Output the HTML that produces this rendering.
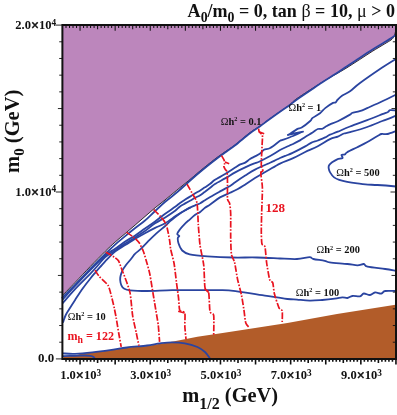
<!DOCTYPE html>
<html><head><meta charset="utf-8"><title>plot</title>
<style>html,body{margin:0;padding:0;background:#fff;}svg{display:block;will-change:transform;}</style>
</head><body>
<svg width="397" height="415" viewBox="0 0 397 415">
<rect width="397" height="415" fill="#fff"/>
<path d="M62.4,25.1 L397.0,25.1 L397.0,29.0 L396.5,29.0 L395.5,31.5 L394.2,36.4 L391.0,40.0 L384.8,43.8 L372.2,51.4 L359.6,59.6 L347.0,67.7 L334.5,75.0 L322.0,82.3 L297.0,98.5 L290.1,104.5 L280.0,111.6 L268.1,120.0 L260.1,126.0 L250.0,132.6 L235.2,144.8 L225.1,151.8 L215.0,159.0 L200.0,171.0 L188.2,181.0 L176.7,190.3 L165.0,200.0 L155.1,207.8 L145.0,216.5 L135.2,225.0 L125.2,233.6 L115.1,242.1 L105.3,251.3 L90.2,266.6 L75.1,282.5 L62.5,295.5 L62.4,295.5 Z" fill="#bc86bc"/>
<path d="M62.5,295.5 C64.6,293.3 70.5,287.3 75.1,282.5 C79.7,277.7 85.2,271.8 90.2,266.6 C95.2,261.4 101.2,255.4 105.3,251.3 C109.4,247.2 111.8,245.1 115.1,242.1 C118.4,239.1 121.9,236.4 125.2,233.6 C128.6,230.8 131.9,227.8 135.2,225.0 C138.5,222.2 141.7,219.4 145.0,216.5 C148.3,213.6 151.8,210.6 155.1,207.8 C158.4,205.1 161.4,202.9 165.0,200.0 C168.6,197.1 172.8,193.5 176.7,190.3 C180.6,187.1 184.3,184.2 188.2,181.0 C192.1,177.8 195.5,174.7 200.0,171.0 C204.5,167.3 210.8,162.2 215.0,159.0 C219.2,155.8 221.7,154.2 225.1,151.8 C228.5,149.4 231.0,148.0 235.2,144.8 C239.3,141.6 245.8,135.7 250.0,132.6 C254.2,129.5 257.1,128.1 260.1,126.0 C263.1,123.9 264.8,122.4 268.1,120.0 C271.4,117.6 276.3,114.2 280.0,111.6 C283.7,109.0 287.3,106.7 290.1,104.5 C292.9,102.3 291.7,102.2 297.0,98.5 C302.3,94.8 315.8,86.2 322.0,82.3 C328.2,78.4 330.3,77.4 334.5,75.0 C338.7,72.6 342.8,70.3 347.0,67.7 C351.2,65.1 355.4,62.3 359.6,59.6 C363.8,56.9 368.0,54.0 372.2,51.4 C376.4,48.8 381.7,45.7 384.8,43.8 C387.9,41.9 389.4,41.2 391.0,40.0 C392.6,38.8 393.4,37.8 394.2,36.4 C394.9,35.0 395.1,32.7 395.5,31.5 C395.9,30.3 396.3,29.4 396.5,29.0" fill="none" stroke="#1a1a1a" stroke-width="0.9"/>
<path d="M63.4,356.4 L72.0,356.0 L76.0,355.2 L80.0,353.9 L92.3,352.6 L110.0,350.3 L127.0,347.6 L147.0,346.0 L172.0,341.8 L197.4,336.8 L222.6,333.0 L247.0,329.2 L287.4,323.0 L337.0,314.0 L397.0,304.5 L397.0,358.9 L63.4,358.9 Z" fill="#b25c29"/>
<path d="M62.3,297.6 C64.4,295.5 70.3,289.6 75.0,284.8 C79.7,280.0 85.2,274.1 90.2,268.9 C95.2,263.7 101.2,257.9 105.3,253.8 C109.4,249.8 111.8,247.6 115.1,244.6 C118.4,241.6 121.9,238.9 125.2,236.1 C128.6,233.3 131.9,230.6 135.2,228.0 C138.5,225.4 141.7,223.3 145.0,220.5 C148.3,217.7 151.7,214.1 155.1,211.0 C158.5,207.9 161.4,205.0 165.2,201.8 C168.9,198.6 173.8,195.1 177.6,191.8 C181.4,188.6 184.5,185.6 188.2,182.3 C191.9,179.0 195.5,175.7 200.0,172.0 C204.5,168.3 210.8,163.2 215.0,160.0 C219.2,156.8 221.7,154.9 225.1,152.5 C228.5,150.1 231.0,148.5 235.2,145.3 C239.3,142.1 245.8,136.4 250.0,133.2 C254.2,130.0 257.1,128.4 260.1,126.3 C263.1,124.2 264.8,122.7 268.1,120.3 C271.4,117.9 276.3,114.4 280.0,111.8 C283.7,109.2 287.3,106.8 290.1,104.8 C292.9,102.8 291.7,103.2 297.0,99.5 C302.3,95.8 315.8,86.8 322.0,82.6 C328.2,78.4 330.3,77.3 334.5,74.6 C338.7,71.9 342.8,69.0 347.0,66.2 C351.2,63.4 355.4,60.6 359.6,57.9 C363.8,55.1 368.0,52.3 372.2,49.7 C376.4,47.1 381.7,44.0 384.8,42.1 C387.9,40.2 389.2,39.5 391.0,38.3 C392.8,37.1 394.8,35.6 395.5,35.1" fill="none" stroke="#2a44a0" stroke-width="1.8" stroke-linejoin="round" stroke-linecap="round"/>
<path d="M395.7,59.0 C393.1,60.7 385.9,65.0 380.0,69.0 C374.1,73.0 365.0,79.3 360.0,83.0 C355.0,86.7 353.0,89.2 350.0,91.3 C347.0,93.4 344.0,94.3 342.0,95.7 C340.0,97.1 338.9,98.4 337.8,99.5 C336.7,100.6 336.3,101.9 335.5,102.5 C334.7,103.1 334.7,102.0 333.0,102.9 C331.3,103.8 327.4,106.4 325.2,108.1 C323.0,109.8 322.1,111.6 320.0,113.2 C317.9,114.8 314.2,116.6 312.6,117.9 C311.0,119.2 312.0,119.4 310.2,121.0 C308.4,122.6 303.9,126.2 301.7,127.5 C299.5,128.8 299.2,127.9 297.1,129.1 C295.0,130.3 290.4,133.6 289.1,134.5 C287.8,135.4 287.0,134.9 289.1,134.5 C291.2,134.1 299.6,132.4 301.7,132.0 C303.8,131.6 303.1,131.3 301.7,132.0 C300.3,132.7 296.4,134.7 293.1,136.0 C289.8,137.3 284.2,139.3 282.0,140.1 C279.8,140.9 282.0,139.5 280.0,140.8 C278.0,142.1 272.9,146.5 270.2,148.0 C267.5,149.5 265.7,148.9 264.0,149.8 C262.3,150.7 261.6,152.4 260.1,153.5 C258.6,154.6 256.7,155.5 255.0,156.4 C253.3,157.3 251.6,158.1 250.0,159.1 C248.4,160.1 246.8,161.7 245.2,162.6 C243.6,163.5 241.9,163.6 240.2,164.4 C238.5,165.2 237.7,165.9 235.2,167.5 C232.7,169.1 228.5,171.9 225.1,174.0 C221.7,176.1 217.5,178.2 215.0,179.8 C212.5,181.4 211.9,182.6 210.2,183.8 C208.5,185.1 206.7,186.2 205.0,187.3 C203.3,188.4 201.8,189.5 200.2,190.5 C198.6,191.5 196.9,192.3 195.2,193.3 C193.5,194.3 191.7,195.6 190.0,196.6 C188.3,197.6 186.9,198.5 185.2,199.6 C183.5,200.7 181.7,201.8 180.0,203.0 C178.3,204.2 177.7,205.0 175.2,206.8 C172.7,208.6 168.5,211.3 165.2,213.7 C161.8,216.1 158.5,218.9 155.1,221.4 C151.7,223.9 148.3,226.2 145.0,228.5 C141.7,230.8 138.5,233.2 135.2,235.4 C131.9,237.6 128.6,239.3 125.2,241.5 C121.9,243.7 118.5,246.5 115.1,248.8 C111.7,251.1 109.2,251.9 105.0,255.5 C100.8,259.1 95.2,265.1 90.2,270.2 C85.2,275.3 79.6,281.2 75.1,286.0 C70.6,290.8 65.0,296.9 63.0,299.1" fill="none" stroke="#2a44a0" stroke-width="1.8" stroke-linejoin="round" stroke-linecap="round"/>
<path d="M396.2,94.5 C393.9,95.6 387.1,99.0 382.3,101.3 C377.5,103.6 371.0,106.4 367.2,108.1 C363.4,109.8 362.2,110.4 359.7,111.2 C357.2,112.0 353.6,112.4 352.0,113.0 C350.4,113.6 352.4,113.2 350.0,114.6 C347.6,116.0 341.1,119.6 337.8,121.2 C334.5,122.8 332.1,123.5 330.0,124.4 C327.9,125.4 326.6,126.2 325.3,126.9 C324.0,127.7 323.2,128.6 322.0,128.9 C320.8,129.2 319.4,128.4 317.8,129.0 C316.2,129.6 314.7,131.2 312.6,132.5 C310.5,133.8 307.3,135.6 305.2,136.9 C303.1,138.2 302.1,139.2 300.0,140.4 C297.9,141.6 294.3,143.4 292.6,144.2 C290.9,145.0 292.1,144.2 290.0,145.2 C287.9,146.2 283.3,148.2 280.0,150.0 C276.7,151.8 273.7,154.1 270.2,156.0 C266.7,157.9 261.6,160.5 259.1,161.7 C256.6,162.9 257.3,162.2 255.0,163.2 C252.7,164.1 248.5,165.9 245.2,167.4 C241.9,168.9 238.5,170.6 235.2,172.4 C231.8,174.2 228.5,176.5 225.1,178.4 C221.7,180.3 217.5,182.4 215.0,184.0 C212.5,185.6 211.9,186.4 210.2,187.7 C208.5,189.0 206.7,190.4 205.0,191.7 C203.3,192.9 201.8,194.2 200.2,195.2 C198.6,196.2 196.9,196.8 195.2,197.7 C193.5,198.6 191.7,199.8 190.0,200.7 C188.3,201.6 186.9,202.4 185.2,203.4 C183.5,204.4 181.7,205.2 180.0,206.4 C178.3,207.6 177.7,208.9 175.2,210.7 C172.7,212.5 168.5,215.3 165.2,217.4 C161.8,219.5 158.5,221.0 155.1,223.3 C151.7,225.6 148.3,228.7 145.0,231.0 C141.7,233.3 138.5,235.3 135.2,237.4 C131.9,239.5 128.6,241.4 125.2,243.6 C121.9,245.8 118.5,248.2 115.1,250.5 C111.7,252.8 107.9,254.8 105.0,257.3 C102.1,259.8 100.3,262.7 97.8,265.5 C95.3,268.3 94.0,270.0 90.2,273.9 C86.4,277.8 79.6,284.3 75.1,289.1 C70.6,293.9 65.0,300.5 63.0,302.8" fill="none" stroke="#2a44a0" stroke-width="1.8" stroke-linejoin="round" stroke-linecap="round"/>
<path d="M396.2,110.4 C395.2,110.4 391.4,109.9 390.0,110.2 C388.6,110.5 389.3,111.3 388.0,112.0 C386.7,112.7 385.8,112.8 382.3,114.2 C378.8,115.6 372.6,118.2 367.2,120.2 C361.8,122.2 354.9,124.6 350.0,126.5 C345.1,128.4 341.1,130.3 337.8,131.7 C334.5,133.1 332.1,133.8 330.0,134.7 C327.9,135.6 327.2,136.4 325.2,137.4 C323.2,138.4 320.1,139.6 317.8,140.5 C315.5,141.4 313.6,141.6 311.5,142.6 C309.4,143.6 308.3,144.7 305.2,146.4 C302.1,148.1 295.8,151.4 292.6,152.9 C289.5,154.4 288.4,154.7 286.3,155.5 C284.2,156.3 282.0,157.1 280.0,158.0 C278.0,158.9 276.3,159.9 274.2,160.9 C272.1,161.9 270.6,162.5 267.4,163.9 C264.2,165.3 258.7,167.7 255.0,169.6 C251.3,171.5 248.5,173.5 245.2,175.6 C241.9,177.7 237.7,180.5 235.2,182.2 C232.7,183.9 232.6,184.4 230.1,185.9 C227.6,187.4 223.3,189.5 220.0,191.4 C216.7,193.3 212.7,195.6 210.2,197.1 C207.7,198.6 206.7,199.2 205.0,200.2 C203.3,201.2 201.8,202.3 200.2,203.2 C198.6,204.0 196.9,204.6 195.2,205.3 C193.5,206.0 191.7,206.8 190.0,207.6 C188.3,208.4 186.9,209.3 185.2,210.3 C183.5,211.3 181.7,212.4 180.0,213.5 C178.3,214.6 176.8,215.7 175.2,217.0 C173.6,218.3 171.9,219.7 170.2,221.2 C168.5,222.7 167.7,223.8 165.2,226.0 C162.7,228.2 158.0,231.9 155.1,234.6 C152.2,237.2 150.1,239.4 147.6,241.9 C145.1,244.4 142.4,247.4 140.3,249.4 C138.2,251.4 136.7,252.1 135.2,253.7 C133.7,255.2 132.7,256.8 131.2,258.7 C129.7,260.6 127.7,262.9 126.2,264.8 C124.8,266.7 123.4,268.5 122.5,270.3 C121.6,272.1 121.0,274.1 120.6,275.7 C120.2,277.3 120.1,278.6 120.2,280.2 C120.3,281.8 120.8,283.9 121.4,285.3 C122.0,286.7 122.6,287.7 124.0,288.5 C125.4,289.3 126.2,289.9 130.0,290.3 C133.8,290.7 140.0,291.0 147.0,291.0 C154.0,291.0 163.8,290.3 172.2,290.2 C180.6,290.1 189.0,290.2 197.4,290.2 C205.8,290.2 216.0,290.0 222.6,290.2 C229.2,290.4 230.4,290.6 237.0,291.4 C243.6,292.2 253.8,293.9 262.2,295.2 C270.6,296.5 281.6,298.3 287.4,299.0 C293.2,299.7 293.3,299.3 297.0,299.6 C300.7,299.9 305.4,300.5 309.6,300.6 C313.8,300.7 318.0,300.3 322.2,300.0 C326.4,299.7 331.4,299.1 334.8,298.6 C338.2,298.2 340.2,297.4 342.3,297.3 C344.4,297.2 345.7,298.2 347.4,298.0 C349.1,297.8 350.3,296.3 352.4,296.0 C354.5,295.7 358.1,296.7 360.0,296.3 C361.9,295.9 362.1,293.7 363.8,293.5 C365.5,293.3 368.1,295.2 370.0,295.0 C371.9,294.8 373.1,292.8 375.0,292.5 C376.9,292.2 379.7,293.8 381.4,293.5 C383.1,293.2 382.8,291.4 385.2,291.0 C387.6,290.6 393.9,291.0 395.7,291.0" fill="none" stroke="#2a44a0" stroke-width="1.8" stroke-linejoin="round" stroke-linecap="round"/>
<path d="M396.2,115.7 C393.9,116.6 387.1,119.1 382.3,121.0 C377.5,122.9 372.6,125.1 367.2,127.0 C361.8,128.9 353.9,131.1 350.0,132.2 C346.1,133.3 346.0,132.8 344.0,133.5 C342.0,134.2 340.1,135.7 337.8,136.6 C335.5,137.5 333.3,137.5 330.0,139.1 C326.7,140.7 321.9,144.0 317.8,146.2 C313.7,148.3 309.4,150.0 305.2,152.0 C301.0,154.0 296.8,156.5 292.6,158.4 C288.4,160.3 284.2,161.5 280.0,163.6 C275.8,165.7 271.6,168.4 267.4,170.8 C263.2,173.2 259.0,175.5 255.0,178.0 C251.0,180.5 246.1,183.9 243.2,185.8 C240.3,187.7 239.6,188.1 237.4,189.3 C235.2,190.5 232.9,191.5 230.0,192.8 C227.1,194.2 223.3,195.5 220.0,197.4 C216.7,199.3 212.7,202.8 210.2,204.5 C207.7,206.2 206.7,206.6 205.0,207.8 C203.3,209.1 201.8,210.8 200.2,212.0 C198.6,213.2 197.2,213.3 195.2,214.8 C193.2,216.3 189.8,219.5 188.2,220.8 C186.6,222.1 187.2,221.4 185.8,222.8 C184.4,224.2 181.4,227.4 180.0,229.3 C178.6,231.2 177.3,232.9 177.2,234.0 C177.1,235.1 179.2,235.3 179.3,236.0 C179.4,236.7 178.0,236.8 177.8,238.0 C177.7,239.2 177.7,240.9 178.4,243.0 C179.1,245.1 180.3,248.6 182.2,250.5 C184.1,252.4 185.5,253.3 189.7,254.3 C193.9,255.3 200.2,255.8 207.4,256.3 C214.6,256.8 224.3,257.3 232.6,257.5 C240.9,257.7 249.1,257.3 257.0,257.5 C264.9,257.7 273.3,258.2 280.0,258.5 C286.7,258.8 292.1,259.2 297.0,259.0 C301.9,258.8 306.9,257.2 309.6,257.2 C312.3,257.2 310.9,258.4 313.4,259.0 C315.9,259.6 322.0,260.2 324.7,260.8 C327.4,261.4 325.9,261.8 329.7,262.3 C333.5,262.8 342.8,263.5 347.4,264.0 C352.0,264.5 354.8,265.3 357.5,265.3 C360.2,265.3 362.1,263.8 363.8,264.0 C365.5,264.2 363.9,265.8 367.5,266.6 C371.1,267.4 380.5,268.3 385.2,269.0 C389.9,269.7 393.9,270.5 395.7,270.8" fill="none" stroke="#2a44a0" stroke-width="1.8" stroke-linejoin="round" stroke-linecap="round"/>
<path d="M63.2,322.0 C63.6,320.9 64.5,317.6 65.5,315.5 C66.5,313.4 67.4,312.1 69.0,309.5 C70.6,306.9 72.8,303.4 75.1,299.9 C77.4,296.4 80.2,292.0 82.7,288.5 C85.2,285.0 88.1,281.3 90.2,278.7 C92.3,276.1 93.5,274.7 95.1,272.8 C96.7,270.9 98.3,269.1 100.0,267.2 C101.7,265.3 103.5,263.1 105.2,261.3 C106.9,259.5 108.3,257.9 110.0,256.3 C111.7,254.7 112.6,253.5 115.1,251.6 C117.6,249.7 121.9,247.2 125.2,245.1 C128.6,243.0 131.9,240.8 135.2,238.8 C138.5,236.8 141.7,235.0 145.0,233.2 C148.3,231.4 151.7,229.6 155.1,227.9 C158.5,226.2 161.8,225.1 165.2,223.2 C168.5,221.3 172.7,218.0 175.2,216.3 C177.7,214.6 178.3,214.2 180.0,213.2 C181.7,212.2 183.5,211.1 185.2,210.2 C186.9,209.3 189.2,208.0 190.0,207.6" fill="none" stroke="#2a44a0" stroke-width="1.8" stroke-linejoin="round" stroke-linecap="round"/>
<path d="M396.0,131.0 C394.6,131.5 389.9,133.5 387.5,134.0 C385.1,134.5 383.2,133.7 381.5,134.0 C379.8,134.3 379.9,134.7 377.5,136.0 C375.1,137.3 370.8,140.1 367.4,142.0 C364.0,143.9 360.7,145.5 357.3,147.2 C353.9,148.9 349.3,151.0 347.2,152.2 C345.1,153.4 345.8,154.0 344.8,154.5 C343.9,155.0 341.9,154.4 341.5,155.0 C341.1,155.6 343.2,157.3 342.5,158.0 C341.8,158.7 338.9,158.6 337.2,159.3 C335.5,160.0 333.5,161.3 332.1,162.3 C330.8,163.3 329.7,164.3 329.1,165.3 C328.5,166.3 328.5,167.1 328.7,168.3 C328.9,169.5 329.2,170.9 330.1,172.4 C331.0,173.9 332.6,176.2 334.1,177.4 C335.6,178.6 337.0,179.1 339.2,179.8 C341.4,180.5 344.2,181.2 347.2,181.8 C350.2,182.4 354.3,183.0 357.3,183.4 C360.3,183.8 362.0,184.1 365.4,184.4 C368.8,184.7 372.4,184.7 377.5,185.0 C382.6,185.3 392.9,186.2 396.0,186.5" fill="none" stroke="#2a44a0" stroke-width="1.8" stroke-linejoin="round" stroke-linecap="round"/>
<path d="M63.2,353.4 C65.2,353.5 70.2,354.0 75.0,353.8 C79.8,353.6 86.5,353.0 92.3,352.4 C98.1,351.8 104.2,351.0 110.0,350.2 C115.8,349.4 120.8,348.3 127.0,347.5 C133.2,346.7 141.5,346.2 147.0,345.5 C152.5,344.8 155.8,343.8 160.0,343.3 C164.2,342.8 167.9,342.3 172.0,342.3 C176.1,342.3 180.6,342.5 184.8,343.3 C189.0,344.1 194.0,345.6 197.4,347.0 C200.8,348.4 202.9,350.1 205.0,352.0 C207.1,353.9 209.2,357.4 210.0,358.5" fill="none" stroke="#2a44a0" stroke-width="1.8" stroke-linejoin="round" stroke-linecap="round"/>
<path d="M63.2,356.2 C65.2,356.1 71.4,355.9 75.0,355.8 C78.6,355.7 82.4,355.5 85.0,355.5 C87.6,355.5 89.1,355.6 90.5,355.9 C91.9,356.1 92.8,356.5 93.5,357.0 C94.2,357.5 94.8,358.5 95.0,358.8" fill="none" stroke="#2a44a0" stroke-width="1.8" stroke-linejoin="round" stroke-linecap="round"/>
<path d="M95.0,270.3 C95.5,271.0 97.8,274.8 99.3,276.5 C100.8,278.2 106.6,283.0 108.0,285.3 C109.4,287.6 110.8,293.8 111.5,296.5 C112.2,299.2 113.8,305.7 114.3,308.2 C114.8,310.7 115.7,315.1 116.2,318.0 C116.7,320.9 118.1,329.6 118.7,333.0 C119.3,336.4 120.9,345.3 121.2,346.9" fill="none" stroke="#e9131f" stroke-width="1.7" stroke-dasharray="6.5 1.6 1.6 1.6"/>
<path d="M105.8,252.2 C106.3,252.5 109.0,254.0 110.0,254.6 C111.0,255.2 113.0,256.3 114.0,257.0 C115.0,257.7 117.6,259.3 118.5,260.8 C119.4,262.3 121.2,268.0 122.0,270.0 C122.8,272.0 124.1,275.0 125.0,277.6 C125.9,280.2 129.1,288.3 130.0,292.7 C130.9,297.1 131.9,310.7 132.6,315.4 C133.3,320.1 135.6,329.5 136.3,333.0 C137.0,336.5 138.6,344.1 138.9,345.6" fill="none" stroke="#e9131f" stroke-width="1.7" stroke-dasharray="6.5 1.6 1.6 1.6"/>
<path d="M126.5,232.4 C127.3,232.9 131.8,235.8 133.3,237.0 C134.8,238.2 137.8,240.9 139.0,242.6 C140.2,244.3 142.6,249.3 143.5,251.7 C144.4,254.1 146.1,260.3 146.9,263.0 C147.7,265.7 149.3,271.3 150.0,275.0 C150.7,278.7 152.6,290.9 153.3,295.0 C154.0,299.1 155.2,306.4 155.8,310.0 C156.4,313.6 157.9,321.8 158.3,325.5 C158.7,329.2 159.4,339.9 159.6,341.8" fill="none" stroke="#e9131f" stroke-width="1.7" stroke-dasharray="6.5 1.6 1.6 1.6"/>
<path d="M153.7,209.7 C154.5,210.5 159.0,214.8 160.5,216.5 C162.0,218.2 165.1,221.7 166.2,224.5 C167.3,227.3 169.1,237.5 169.6,240.4 C170.1,243.3 170.2,246.8 170.7,249.4 C171.2,252.0 173.3,259.2 174.0,263.0 C174.7,266.8 175.9,278.0 176.4,282.0 C176.9,286.0 178.1,294.4 178.5,297.7 C178.9,301.0 179.0,308.2 179.7,310.0 C180.4,311.8 184.2,311.2 184.8,313.0 C185.4,314.8 184.7,322.4 184.8,325.5 C184.9,328.6 185.9,337.7 186.0,339.3" fill="none" stroke="#e9131f" stroke-width="1.7" stroke-dasharray="6.5 1.6 1.6 1.6"/>
<path d="M187.0,184.2 C187.6,185.2 190.8,190.8 192.0,193.0 C193.2,195.2 196.3,199.3 197.0,203.0 C197.7,206.7 198.0,220.1 198.3,225.0 C198.7,229.9 199.4,240.3 200.0,245.0 C200.6,249.7 203.1,260.0 203.7,265.0 C204.3,270.0 204.4,284.5 205.0,287.7 C205.6,290.9 208.1,289.9 208.7,292.7 C209.3,295.5 209.4,309.0 210.0,311.6 C210.6,314.2 213.3,312.7 213.7,315.4 C214.1,318.1 213.7,332.7 213.7,335.0" fill="none" stroke="#e9131f" stroke-width="1.7" stroke-dasharray="6.5 1.6 1.6 1.6"/>
<path d="M221.5,155.6 C221.8,156.1 223.7,159.2 224.1,160.1 C224.5,161.0 224.6,162.8 224.6,163.5 C224.6,164.2 223.7,165.5 223.8,166.2 C223.9,166.9 224.7,168.5 225.1,169.2 C225.5,169.9 226.8,170.3 227.1,172.2 C227.4,174.1 227.5,182.4 227.5,185.5 C227.5,188.6 227.3,196.9 227.5,199.0 C227.7,201.1 229.2,201.6 229.6,203.3 C230.0,205.1 230.6,210.0 230.7,214.0 C230.8,218.0 230.6,233.3 230.7,238.0 C230.8,242.7 231.0,251.2 231.4,254.0 C231.8,256.8 234.0,260.4 234.5,262.0 C235.0,263.6 235.2,265.9 235.6,268.0 C236.0,270.1 237.0,276.8 237.7,280.0 C238.4,283.2 240.8,291.7 241.5,295.2 C242.2,298.7 243.5,307.1 244.0,310.3 C244.5,313.5 245.1,320.9 245.8,323.0 C246.5,325.1 249.2,327.4 249.6,328.0" fill="none" stroke="#e9131f" stroke-width="1.7" stroke-dasharray="6.5 1.6 1.6 1.6"/>
<path d="M258.6,128.6 C258.7,129.0 258.8,131.0 259.2,131.8 C259.6,132.6 262.1,133.9 262.4,135.5 C262.7,137.1 262.2,141.8 262.1,145.2 C262.0,148.6 261.2,162.0 261.3,165.0 C261.4,168.0 263.1,170.1 263.0,171.0 C262.9,171.9 260.9,171.0 260.8,173.0 C260.7,175.0 262.3,183.1 262.4,188.0 C262.5,192.9 261.7,210.0 261.6,215.0 C261.5,220.0 261.3,227.6 261.3,231.0 C261.3,234.4 261.5,241.9 261.9,243.8 C262.3,245.7 264.5,244.7 265.0,246.9 C265.5,249.1 266.1,258.7 266.6,262.5 C267.1,266.3 269.0,277.3 269.7,279.7 C270.4,282.1 272.3,281.2 272.8,282.8 C273.3,284.4 273.7,290.9 274.4,293.8 C275.1,296.7 278.1,305.8 279.0,307.8 C279.9,309.8 281.8,309.2 282.2,310.9 C282.6,312.6 282.2,320.7 282.2,322.0" fill="none" stroke="#e9131f" stroke-width="1.7" stroke-dasharray="6.5 1.6 1.6 1.6"/>
<path d="M259,131.7 L264.2,133.7 M225,162 L229.2,163.8 M260.3,172.6 L263.3,170.6 M178.2,311.3 L184.6,313 M204.6,288.6 L208.8,292.6" fill="none" stroke="#e9131f" stroke-width="1.6"/>
<g stroke="#111" fill="none">
<path d="M62.4,24.1 V359.9 M61.4,25.1 H397 M61.4,358.9 H397 M396.0,25.1 V358.9" stroke-width="2"/>
<path d="M66.01,25.1 v2.9 M69.52,25.1 v2.9 M73.03,25.1 v2.9 M76.54,25.1 v2.9 M80.05,25.1 v5.6 M83.56,25.1 v2.9 M87.07,25.1 v2.9 M90.58,25.1 v2.9 M94.09,25.1 v2.9 M97.60,25.1 v4.2 M101.11,25.1 v2.9 M104.62,25.1 v2.9 M108.13,25.1 v2.9 M111.64,25.1 v2.9 M115.15,25.1 v5.6 M118.66,25.1 v2.9 M122.17,25.1 v2.9 M125.68,25.1 v2.9 M129.19,25.1 v2.9 M132.70,25.1 v4.2 M136.21,25.1 v2.9 M139.72,25.1 v2.9 M143.23,25.1 v2.9 M146.74,25.1 v2.9 M150.25,25.1 v5.6 M153.76,25.1 v2.9 M157.27,25.1 v2.9 M160.78,25.1 v2.9 M164.29,25.1 v2.9 M167.80,25.1 v4.2 M171.31,25.1 v2.9 M174.82,25.1 v2.9 M178.33,25.1 v2.9 M181.84,25.1 v2.9 M185.35,25.1 v5.6 M188.86,25.1 v2.9 M192.37,25.1 v2.9 M195.88,25.1 v2.9 M199.39,25.1 v2.9 M202.90,25.1 v4.2 M206.41,25.1 v2.9 M209.92,25.1 v2.9 M213.43,25.1 v2.9 M216.94,25.1 v2.9 M220.45,25.1 v5.6 M223.96,25.1 v2.9 M227.47,25.1 v2.9 M230.98,25.1 v2.9 M234.49,25.1 v2.9 M238.00,25.1 v4.2 M241.51,25.1 v2.9 M245.02,25.1 v2.9 M248.53,25.1 v2.9 M252.04,25.1 v2.9 M255.55,25.1 v5.6 M259.06,25.1 v2.9 M262.57,25.1 v2.9 M266.08,25.1 v2.9 M269.59,25.1 v2.9 M273.10,25.1 v4.2 M276.61,25.1 v2.9 M280.12,25.1 v2.9 M283.63,25.1 v2.9 M287.14,25.1 v2.9 M290.65,25.1 v5.6 M294.16,25.1 v2.9 M297.67,25.1 v2.9 M301.18,25.1 v2.9 M304.69,25.1 v2.9 M308.20,25.1 v4.2 M311.71,25.1 v2.9 M315.22,25.1 v2.9 M318.73,25.1 v2.9 M322.24,25.1 v2.9 M325.75,25.1 v5.6 M329.26,25.1 v2.9 M332.77,25.1 v2.9 M336.28,25.1 v2.9 M339.79,25.1 v2.9 M343.30,25.1 v4.2 M346.81,25.1 v2.9 M350.32,25.1 v2.9 M353.83,25.1 v2.9 M357.34,25.1 v2.9 M360.85,25.1 v5.6 M364.36,25.1 v2.9 M367.87,25.1 v2.9 M371.38,25.1 v2.9 M374.89,25.1 v2.9 M378.40,25.1 v4.2 M381.91,25.1 v2.9 M385.42,25.1 v2.9 M388.93,25.1 v2.9 M392.44,25.1 v2.9 M395.95,25.1 v5.6" stroke-width="1.05"/>
<path d="M66.01,358.9 v2.9 M69.52,358.9 v2.9 M73.03,358.9 v2.9 M76.54,358.9 v2.9 M80.05,358.9 v5.6 M83.56,358.9 v2.9 M87.07,358.9 v2.9 M90.58,358.9 v2.9 M94.09,358.9 v2.9 M97.60,358.9 v4.2 M101.11,358.9 v2.9 M104.62,358.9 v2.9 M108.13,358.9 v2.9 M111.64,358.9 v2.9 M115.15,358.9 v5.6 M118.66,358.9 v2.9 M122.17,358.9 v2.9 M125.68,358.9 v2.9 M129.19,358.9 v2.9 M132.70,358.9 v4.2 M136.21,358.9 v2.9 M139.72,358.9 v2.9 M143.23,358.9 v2.9 M146.74,358.9 v2.9 M150.25,358.9 v5.6 M153.76,358.9 v2.9 M157.27,358.9 v2.9 M160.78,358.9 v2.9 M164.29,358.9 v2.9 M167.80,358.9 v4.2 M171.31,358.9 v2.9 M174.82,358.9 v2.9 M178.33,358.9 v2.9 M181.84,358.9 v2.9 M185.35,358.9 v5.6 M188.86,358.9 v2.9 M192.37,358.9 v2.9 M195.88,358.9 v2.9 M199.39,358.9 v2.9 M202.90,358.9 v4.2 M206.41,358.9 v2.9 M209.92,358.9 v2.9 M213.43,358.9 v2.9 M216.94,358.9 v2.9 M220.45,358.9 v5.6 M223.96,358.9 v2.9 M227.47,358.9 v2.9 M230.98,358.9 v2.9 M234.49,358.9 v2.9 M238.00,358.9 v4.2 M241.51,358.9 v2.9 M245.02,358.9 v2.9 M248.53,358.9 v2.9 M252.04,358.9 v2.9 M255.55,358.9 v5.6 M259.06,358.9 v2.9 M262.57,358.9 v2.9 M266.08,358.9 v2.9 M269.59,358.9 v2.9 M273.10,358.9 v4.2 M276.61,358.9 v2.9 M280.12,358.9 v2.9 M283.63,358.9 v2.9 M287.14,358.9 v2.9 M290.65,358.9 v5.6 M294.16,358.9 v2.9 M297.67,358.9 v2.9 M301.18,358.9 v2.9 M304.69,358.9 v2.9 M308.20,358.9 v4.2 M311.71,358.9 v2.9 M315.22,358.9 v2.9 M318.73,358.9 v2.9 M322.24,358.9 v2.9 M325.75,358.9 v5.6 M329.26,358.9 v2.9 M332.77,358.9 v2.9 M336.28,358.9 v2.9 M339.79,358.9 v2.9 M343.30,358.9 v4.2 M346.81,358.9 v2.9 M350.32,358.9 v2.9 M353.83,358.9 v2.9 M357.34,358.9 v2.9 M360.85,358.9 v5.6 M364.36,358.9 v2.9 M367.87,358.9 v2.9 M371.38,358.9 v2.9 M374.89,358.9 v2.9 M378.40,358.9 v4.2 M381.91,358.9 v2.9 M385.42,358.9 v2.9 M388.93,358.9 v2.9 M392.44,358.9 v2.9 M395.95,358.9 v5.6" stroke-width="1.6"/>
<path d="M62.4,358.90 h-6.5 M62.4,342.21 h-3.2 M396.0,342.21 h-3.2 M62.4,325.52 h-3.2 M396.0,325.52 h-3.2 M62.4,308.83 h-3.2 M396.0,308.83 h-3.2 M62.4,292.14 h-3.2 M396.0,292.14 h-3.2 M62.4,275.45 h-4.5 M396.0,275.45 h-4.5 M62.4,258.76 h-3.2 M396.0,258.76 h-3.2 M62.4,242.07 h-3.2 M396.0,242.07 h-3.2 M62.4,225.38 h-3.2 M396.0,225.38 h-3.2 M62.4,208.69 h-3.2 M396.0,208.69 h-3.2 M62.4,192.00 h-6.5 M396.0,192.00 h-5.5 M62.4,175.31 h-3.2 M396.0,175.31 h-3.2 M62.4,158.62 h-3.2 M396.0,158.62 h-3.2 M62.4,141.93 h-3.2 M396.0,141.93 h-3.2 M62.4,125.24 h-3.2 M396.0,125.24 h-3.2 M62.4,108.55 h-4.5 M396.0,108.55 h-4.5 M62.4,91.86 h-3.2 M396.0,91.86 h-3.2 M62.4,75.17 h-3.2 M396.0,75.17 h-3.2 M62.4,58.48 h-3.2 M396.0,58.48 h-3.2 M62.4,41.79 h-3.2 M396.0,41.79 h-3.2 M62.4,25.10 h-6.5" stroke-width="0.9"/>
</g>
<g font-family="'Liberation Serif', serif" font-weight="bold">
<text transform="translate(187.6,16.6) scale(0.95,1)" font-size="19" fill="#111">A<tspan font-size="14.6" dy="5">0</tspan><tspan dy="-5">/m</tspan><tspan font-size="14.6" dy="5">0</tspan><tspan dy="-5"> = 0, tan </tspan><tspan font-weight="normal">β</tspan> = 10, <tspan font-weight="normal">μ</tspan> &gt; 0</text>
<text transform="translate(19.3,172.9) rotate(-90)" font-size="20.5" fill="#111">m<tspan font-size="15" dy="4.3">0</tspan><tspan dy="-4.3"> (GeV)</tspan></text>
<text x="182.3" y="402" font-size="20.4" fill="#111">m<tspan font-size="16" dy="6.6">1/2</tspan><tspan dy="-6.6"> (GeV)</tspan></text>
<text x="54.2" y="362.2" font-size="12.9" text-anchor="end" fill="#111">0.0</text>
<text x="56.2" y="196" font-size="12.5" text-anchor="end" fill="#111">1.0<tspan font-size="14.2" dy="0.6" stroke="#111" stroke-width="0.45">×</tspan><tspan dy="-0.6">10</tspan><tspan font-size="9.3" dy="-3.7">4</tspan></text>
<text x="56.2" y="29.3" font-size="12.5" text-anchor="end" fill="#111">2.0<tspan font-size="14.2" dy="0.6" stroke="#111" stroke-width="0.45">×</tspan><tspan dy="-0.6">10</tspan><tspan font-size="9.3" dy="-3.7">4</tspan></text>
<text x="80.6" y="379.3" font-size="12.5" text-anchor="middle" fill="#111">1.0<tspan font-size="14.2" dy="0.6" stroke="#111" stroke-width="0.45">×</tspan><tspan dy="-0.6">10</tspan><tspan font-size="9.3" dy="-3.7">3</tspan></text>
<text x="150.8" y="379.3" font-size="12.5" text-anchor="middle" fill="#111">3.0<tspan font-size="14.2" dy="0.6" stroke="#111" stroke-width="0.45">×</tspan><tspan dy="-0.6">10</tspan><tspan font-size="9.3" dy="-3.7">3</tspan></text>
<text x="221.0" y="379.3" font-size="12.5" text-anchor="middle" fill="#111">5.0<tspan font-size="14.2" dy="0.6" stroke="#111" stroke-width="0.45">×</tspan><tspan dy="-0.6">10</tspan><tspan font-size="9.3" dy="-3.7">3</tspan></text>
<text x="291.3" y="379.3" font-size="12.5" text-anchor="middle" fill="#111">7.0<tspan font-size="14.2" dy="0.6" stroke="#111" stroke-width="0.45">×</tspan><tspan dy="-0.6">10</tspan><tspan font-size="9.3" dy="-3.7">3</tspan></text>
<text x="361.5" y="379.3" font-size="12.5" text-anchor="middle" fill="#111">9.0<tspan font-size="14.2" dy="0.6" stroke="#111" stroke-width="0.45">×</tspan><tspan dy="-0.6">10</tspan><tspan font-size="9.3" dy="-3.7">3</tspan></text>
<text x="67.7" y="320.1" font-size="10.4" fill="#111"><tspan font-weight="normal">Ω</tspan>h<tspan font-size="6.2" dy="-3.8">2</tspan><tspan dy="3.8"> = 10</tspan></text>
<text x="295.8" y="296.2" font-size="10.4" fill="#111"><tspan font-weight="normal">Ω</tspan>h<tspan font-size="6.2" dy="-3.8">2</tspan><tspan dy="3.8"> = 100</tspan></text>
<text x="316.6" y="253.4" font-size="10.4" fill="#111"><tspan font-weight="normal">Ω</tspan>h<tspan font-size="6.2" dy="-3.8">2</tspan><tspan dy="3.8"> = 200</tspan></text>
<text x="336.3" y="176.2" font-size="10.4" fill="#111"><tspan font-weight="normal">Ω</tspan>h<tspan font-size="6.2" dy="-3.8">2</tspan><tspan dy="3.8"> = 500</tspan></text>
<text x="220.8" y="124.9" font-size="10.4" fill="#111"><tspan font-weight="normal">Ω</tspan>h<tspan font-size="6.2" dy="-3.8">2</tspan><tspan dy="3.8"> = 0.1</tspan></text>
<text x="288.4" y="110.5" font-size="10.4" fill="#111"><tspan font-weight="normal">Ω</tspan>h<tspan font-size="6.2" dy="-3.8">2</tspan><tspan dy="3.8"> = 1</tspan></text>
<text x="67.4" y="339.9" font-size="12.1" fill="#e9131f">m<tspan font-size="9.8" dy="3.2">h</tspan><tspan dy="-3.2"> = 122</tspan></text>
<text x="265.5" y="212.1" font-size="13" fill="#e9131f">128</text>
</g>
</svg>
</body></html>
